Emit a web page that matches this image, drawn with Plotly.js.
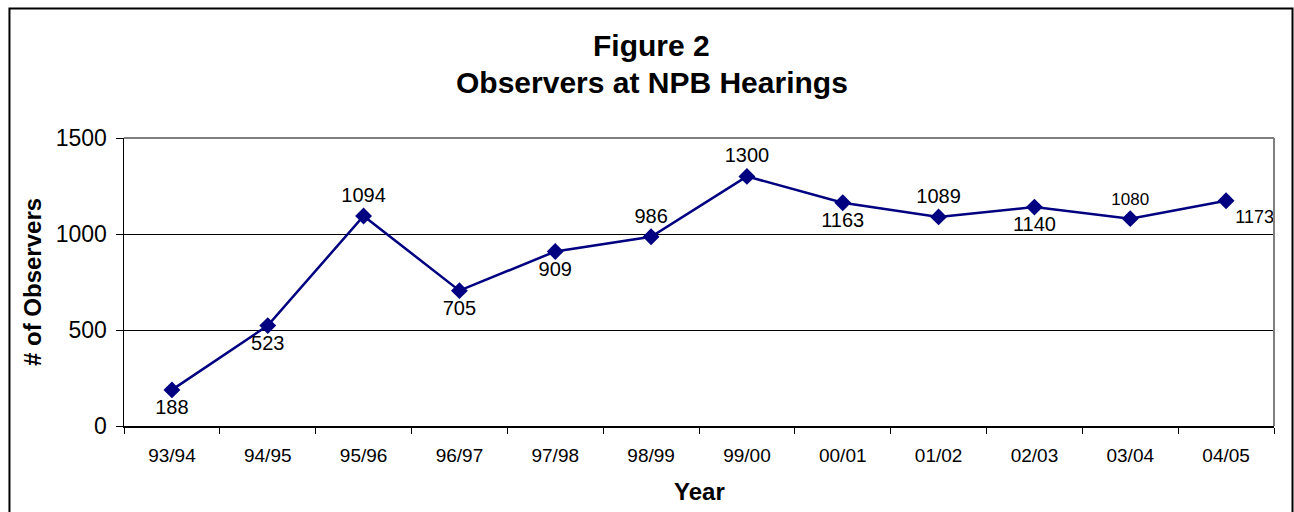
<!DOCTYPE html>
<html>
<head>
<meta charset="utf-8">
<script src="https://cdn.plot.ly/plotly-3.0.1.min.js"></script>
<style>
  html, body { margin: 0; padding: 0; background: #ffffff; }
  #chart { width: 1294px; height: 512px; }
</style>
</head>
<body>
<div id="chart"></div>
<script>
const years = ["93/94", "94/95", "95/96", "96/97", "97/98", "98/99", "99/00", "00/01", "01/02", "02/03", "03/04", "04/05"];
const observers = [188, 523, 1094, 705, 909, 986, 1300, 1163, 1089, 1140, 1080, 1173];
const labelPositions = ["bottom center", "bottom center", "top center", "bottom center", "bottom center", "top center",
                        "top center", "bottom center", "top center", "bottom center", "top center", "bottom right"];
const labelSizes = [20, 20, 20, 20, 20, 20, 20, 20, 20, 20, 17, 18];
const yTicks = [0, 500, 1000, 1500];

const navy = "#000080";
const font = "Arial, 'Liberation Sans', Helvetica, sans-serif";

const trace = {
  type: "scatter",
  mode: "lines+markers+text",
  x: years,
  y: observers,
  text: observers.map(String),
  textposition: labelPositions,
  textfont: { family: font, size: labelSizes, color: "#000000" },
  line: { color: navy, width: 2.5 },
  marker: { symbol: "diamond", size: 13, color: navy },
  cliponaxis: false,
  hoverinfo: "x+y"
};

const layout = {
  width: 1294,
  height: 512,
  margin: { l: 124, r: 20, t: 138, b: 86 },
  paper_bgcolor: "#ffffff",
  plot_bgcolor: "#ffffff",
  showlegend: false,
  font: { family: font, color: "#000000" },
  xaxis: {
    type: "category",
    range: [-0.5, years.length - 0.5],
    tickson: "boundaries",
    ticks: "outside",
    ticklen: 6,
    tickcolor: "#000000",
    tickwidth: 1,
    ticklabelstandoff: 12,
    showline: true,
    linecolor: "#000000",
    linewidth: 1.5,
    showgrid: false,
    zeroline: false,
    tickfont: { family: font, size: 19, color: "#000000" },
    fixedrange: true
  },
  yaxis: {
    range: [0, 1500],
    tickvals: yTicks,
    ticktext: yTicks.map(String),
    ticks: "outside",
    ticklen: 7,
    tickcolor: "#000000",
    tickwidth: 1,
    ticklabelstandoff: 4,
    showline: true,
    linecolor: "#000000",
    linewidth: 1.5,
    showgrid: true,
    gridcolor: "#000000",
    gridwidth: 1,
    zeroline: false,
    tickfont: { family: font, size: 23, color: "#000000" },
    fixedrange: true
  },
  shapes: [
    { type: "line", xref: "paper", yref: "paper", x0: 0, x1: 1, y0: 1, y1: 1,
      line: { color: "#808080", width: 2 } },
    { type: "line", xref: "paper", yref: "paper", x0: 1, x1: 1, y0: 0, y1: 1,
      line: { color: "#808080", width: 2 } },
    { type: "rect", xref: "paper", yref: "paper", x0: -0.0996, x1: 1.0161, y0: -0.37, y1: 1.4497,
      line: { color: "#000000", width: 2 }, fillcolor: "rgba(0,0,0,0)" }
  ],
  annotations: [
    { text: "<b>Figure 2</b>", xref: "paper", yref: "paper", x: 0.4583, y: 1.3229,
      xanchor: "center", yanchor: "middle", showarrow: false,
      font: { family: font, size: 30, color: "#000000" } },
    { text: "<b>Observers at NPB Hearings</b>", xref: "paper", yref: "paper", x: 0.4591, y: 1.191,
      xanchor: "center", yanchor: "middle", showarrow: false,
      font: { family: font, size: 30, color: "#000000" } },
    { text: "<b># of Observers</b>", xref: "paper", yref: "paper", x: -0.08, y: 0.5,
      xanchor: "center", yanchor: "middle", textangle: -90, showarrow: false,
      font: { family: font, size: 24, color: "#000000" } },
    { text: "<b>Year</b>", xref: "paper", yref: "paper", x: 0.5, y: -0.2257,
      xanchor: "center", yanchor: "middle", showarrow: false,
      font: { family: font, size: 24, color: "#000000" } }
  ]
};

Plotly.newPlot("chart", [trace], layout, { displayModeBar: false, staticPlot: true });
</script>
</body>
</html>
